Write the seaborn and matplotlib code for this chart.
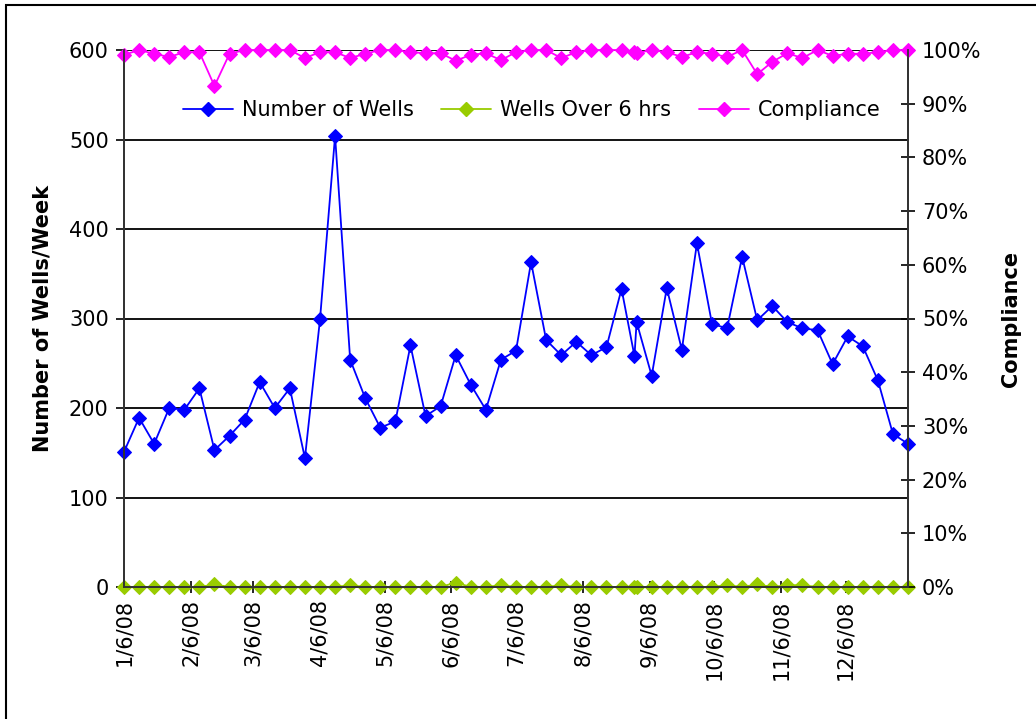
import pandas as pd
import numpy as np
import matplotlib
matplotlib.use("Agg")
import matplotlib.pyplot as plt
import matplotlib.ticker as mticker
import matplotlib.dates as mdates
from matplotlib.lines import Line2D
from matplotlib.patches import Rectangle
import seaborn as sns

# weekly dates, one extra point at end of August
dates = list(pd.date_range("2008-01-06", "2008-08-24", freq="7D")) + \
    [pd.Timestamp("2008-08-30"), pd.Timestamp("2008-08-31")] + \
    list(pd.date_range("2008-09-07", "2009-01-04", freq="7D"))

wells = [151, 189, 160, 200, 198, 222, 153, 169, 187, 229, 200, 222, 144, 299,
         504, 254, 211, 178, 185, 270, 191, 202, 259, 226, 198, 254, 264, 363,
         276, 259, 274, 259, 268, 333, 258, 296, 236, 334, 265, 384, 294, 289,
         369, 298, 314, 296, 289, 287, 249, 280, 269, 231, 171, 160]

over6 = [0, 0, 0, 0, 0, 0, 3, 0, 0, 0, 0, 0, 0, 0,
         0, 2, 0, 0, 0, 0, 0, 0, 5, 0, 0, 2, 0, 0,
         0, 2, 0, 0, 0, 0, 0, 0, 0, 0, 0, 0, 0, 2,
         0, 3, 0, 2, 2, 0, 0, 0, 0, 0, 0, 0]

compliance = [99.1, 100, 99.3, 98.7, 99.6, 99.6, 93.3, 99.3, 100, 100, 100, 100,
              98.5, 99.6, 99.6, 98.5, 99.3, 100, 100, 99.6, 99.4, 99.4, 98.0, 99.1,
              99.4, 98.1, 99.6, 100, 100, 98.5, 99.6, 100, 100, 100, 99.6, 99.4,
              100, 99.6, 98.7, 99.6, 99.3, 98.7, 100, 95.5, 97.8, 99.4, 98.5, 100,
              98.9, 99.3, 99.3, 99.6, 100, 100]

tick_dates = [pd.Timestamp(2008, m, 6) for m in range(1, 13)]

sns.set_style("white")
plt.rcParams["font.family"] = ["DejaVu Sans"]
plt.rcParams["text.color"] = "black"
plt.rcParams["xtick.color"] = "black"
plt.rcParams["ytick.color"] = "black"
plt.rcParams["axes.labelcolor"] = "black"

blue = "#0000FF"
green = "#99CC00"
pink = "#FF00FF"

fig = plt.figure(figsize=(10.36, 7.19), dpi=100)
ax = fig.add_axes([124 / 1036, 1 - 587 / 719, (908 - 124) / 1036, 537 / 719])
ax2 = ax.twinx()

sns.lineplot(x=dates, y=wells, ax=ax, color=blue, marker="D", markersize=7.5,
             markeredgecolor=blue, linewidth=1.3, legend=False, clip_on=False)
sns.lineplot(x=dates, y=over6, ax=ax, color=green, marker="D", markersize=7.5,
             markeredgecolor=green, linewidth=1.3, legend=False, clip_on=False)
sns.lineplot(x=dates, y=[c / 100 for c in compliance], ax=ax2, color=pink,
             marker="D", markersize=7.5, markeredgecolor=pink, linewidth=1.3,
             legend=False, clip_on=False)

ax.set_ylim(0, 600)
ax.set_yticks(range(0, 601, 100))
ax2.set_ylim(0, 1)
ax2.set_yticks(np.arange(0, 1.01, 0.1))
ax2.yaxis.set_major_formatter(mticker.FuncFormatter(lambda v, p: f"{round(v * 100)}%"))

ax.set_xlim(dates[0], dates[-1])
ax.set_xticks(tick_dates)
ax.xaxis.set_major_formatter(mticker.FuncFormatter(
    lambda v, p: "{d.month}/{d.day}/{y}".format(d=mdates.num2date(v), y=mdates.num2date(v).strftime("%y"))))
for lab in ax.get_xticklabels():
    lab.set_rotation(90)

ax.grid(axis="y", color="black", linewidth=1.3)
ax.set_axisbelow(True)
for a in (ax, ax2):
    for s in a.spines.values():
        s.set_color("#333333")
        s.set_linewidth(1.3)
    a.spines["top"].set_visible(False)

ax.tick_params(axis="y", direction="out", length=6, width=1.2, color="black",
               labelsize=15, pad=5, left=True)
ax.tick_params(axis="x", direction="inout", length=8, width=1.2, color="black",
               labelsize=15, pad=5, bottom=True)
ax2.tick_params(axis="y", direction="inout", length=10, width=1.2, color="black",
                labelsize=15, pad=5, right=True)

ax.set_ylabel("Number of Wells/Week", fontsize=15, fontweight="bold", labelpad=12)
ax2.set_ylabel("Compliance", fontsize=15, fontweight="bold", rotation=90, labelpad=14)

handles = [
    Line2D([], [], color=blue, marker="D", markersize=7.5, linewidth=1.3),
    Line2D([], [], color=green, marker="D", markersize=7.5, linewidth=1.3),
    Line2D([], [], color=pink, marker="D", markersize=7.5, linewidth=1.3),
]
ax2.legend(handles, ["Number of Wells", "Wells Over 6 hrs", "Compliance"],
           loc="center", bbox_to_anchor=(0.52, 0.888), ncol=3, frameon=False,
           fontsize=15, handlelength=2.4, columnspacing=1.3, handletextpad=0.45)

fig.patches.append(Rectangle((6 / 1036, -0.05), 1.1, 1 - 5 / 719 + 0.05,
                             transform=fig.transFigure, fill=False,
                             edgecolor="black", linewidth=1.5))

fig.savefig("out.png", dpi=100)
